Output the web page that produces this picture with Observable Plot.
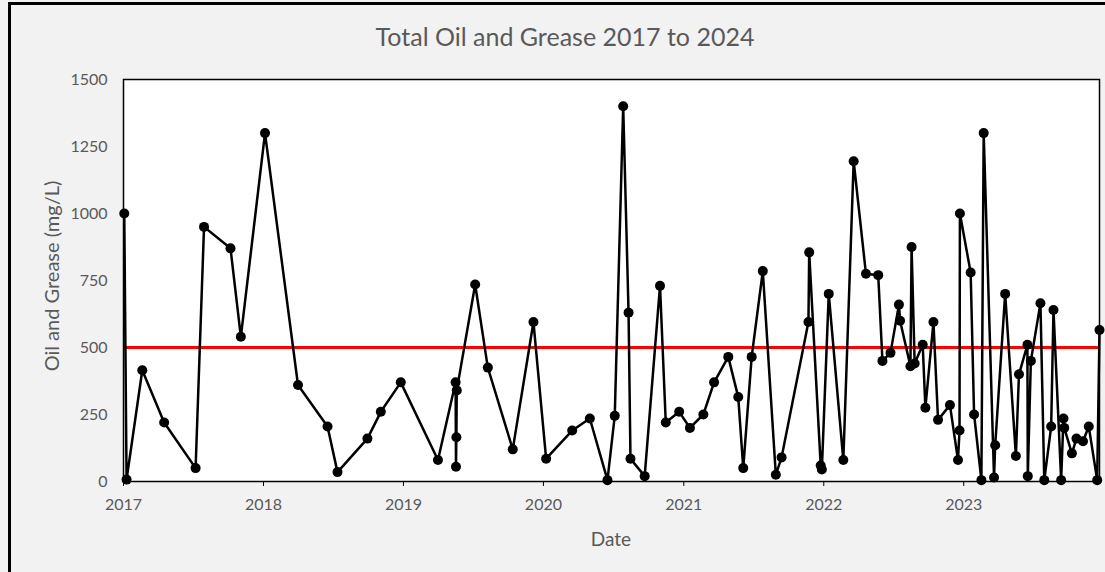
<!DOCTYPE html>
<html>
<head>
<meta charset="utf-8">
<script src="https://cdn.jsdelivr.net/npm/d3@7"></script>
<script src="https://cdn.jsdelivr.net/npm/@observablehq/plot@0.6"></script>
<style>
  html, body { margin: 0; padding: 0; background: #f2f2f2; }
  #wrap { position: relative; width: 1105px; height: 572px; overflow: hidden; background: #f2f2f2; font-family: Lato, "Open Sans", sans-serif; color: #595959; }
  #border { position: absolute; left: 8px; top: 2px; width: 1200px; height: 700px; border-left: 3px solid #000; border-top: 3px solid #000; box-sizing: border-box; }
  #title { position: absolute; left: 0; top: 21px; width: 1130px; text-align: center; font-size: 25px; }
  #ylabel { position: absolute; left: 51px; top: 276px; transform: translate(-50%, -50%) rotate(-90deg); white-space: nowrap; font-size: 20px; }
  #xlabel { position: absolute; left: 611px; top: 538px; transform: translate(-50%, -50%); font-size: 19px; }
  #chart { position: absolute; left: 0; top: 0; }
</style>
</head>
<body>
<div id="wrap">
  <div id="border"></div>
  <div id="chart"></div>
  <div id="title">Total Oil and Grease 2017 to 2024</div>
  <div id="ylabel">Oil and Grease (mg/L)</div>
  <div id="xlabel">Date</div>
</div>
<script>
// Sample dates and measured values (mg/L)
const sampleDates = [
  "2017-01-03","2017-01-09","2017-02-19","2017-04-17","2017-07-08","2017-07-30","2017-10-07","2017-11-03",
  "2018-01-05","2018-04-01","2018-06-17","2018-07-13","2018-09-29","2018-11-03","2018-12-25",
  "2019-04-01","2019-05-17","2019-05-18","2019-05-19","2019-05-20","2019-07-07","2019-08-09","2019-10-13","2019-12-06",
  "2020-01-08","2020-03-16","2020-05-01","2020-06-16","2020-07-05","2020-07-27","2020-08-10","2020-08-15","2020-09-21","2020-10-31","2020-11-15","2020-12-20",
  "2021-01-17","2021-02-21","2021-03-21","2021-04-27","2021-05-23","2021-06-05","2021-06-27","2021-07-26","2021-08-29","2021-09-13","2021-11-22","2021-11-24","2021-12-24","2021-12-27",
  "2022-01-14","2022-02-21","2022-03-20","2022-04-21","2022-05-23","2022-06-03","2022-06-24","2022-07-16","2022-07-19","2022-08-15","2022-08-18","2022-08-26","2022-09-16","2022-09-23","2022-10-14","2022-10-26","2022-11-26","2022-12-17","2022-12-21","2022-12-22",
  "2023-01-19","2023-01-28","2023-02-16","2023-02-22","2023-03-21","2023-03-24","2023-04-19","2023-05-17","2023-05-25","2023-06-16","2023-06-17","2023-06-25","2023-07-20","2023-07-30","2023-08-17","2023-08-23","2023-09-12","2023-09-18","2023-09-20","2023-10-10","2023-10-22","2023-11-08","2023-11-23","2023-12-15","2023-12-21"
];
const oilGrease = [
  1000, 7, 415, 220, 50, 950, 870, 540,
  1300, 360, 205, 35, 160, 260, 370,
  80, 370, 55, 165, 340, 735, 425, 120, 595,
  85, 190, 235, 5, 245, 1400, 630, 85, 20, 730, 220, 260,
  200, 250, 370, 465, 315, 50, 465, 785, 25, 90, 595, 855, 60, 45,
  700, 80, 1195, 775, 770, 450, 480, 660, 600, 430, 875, 440, 510, 275, 595, 230, 285, 80, 190, 1000,
  780, 250, 5, 1300, 15, 135, 700, 95, 400, 510, 20, 450, 665, 5, 205, 640, 5, 235, 200, 105, 160, 150, 205, 5, 565
];
const limitValue = [500];
const yTicks = [0, 250, 500, 750, 1000, 1250, 1500];
const xTickYears = ["2017", "2018", "2019", "2020", "2021", "2022", "2023"];
const xDomain = ["2017-01-01", "2023-12-21"];

const parse = d3.utcParse("%Y-%m-%d");
const data = sampleDates.map((d, i) => ({date: parse(d), value: oilGrease[i]}));
const xTicks = xTickYears.map(y => parse(y + "-01-01"));

const chart = Plot.plot({
  width: 1105,
  height: 572,
  marginTop: 79,
  marginBottom: 91,
  marginLeft: 123,
  marginRight: 6,
  style: {fontFamily: "Lato, 'Open Sans', sans-serif", fontSize: "16px", color: "#595959", background: "transparent", overflow: "visible"},
  x: {type: "utc", domain: xDomain.map(parse)},
  y: {domain: [0, 1500]},
  marks: [
    Plot.frame({fill: "white", stroke: null}),
    Plot.ruleY(limitValue, {stroke: "#ff0000", strokeWidth: 3}),
    Plot.line(data, {x: "date", y: "value", stroke: "#000", strokeWidth: 2.5}),
    Plot.dot(data, {x: "date", y: "value", r: 5, fill: "#000", stroke: null}),
    Plot.axisX({ticks: xTicks, tickFormat: d3.utcFormat("%Y"), tickSize: 5, tickPadding: 12, stroke: "#000", label: null}),
    Plot.axisY({ticks: yTicks, tickFormat: d => String(d), tickSize: 0, tickPadding: 16, label: null}),
    Plot.frame({stroke: "#000", strokeWidth: 1.5})
  ]
});
document.getElementById("chart").appendChild(chart);
</script>
</body>
</html>
